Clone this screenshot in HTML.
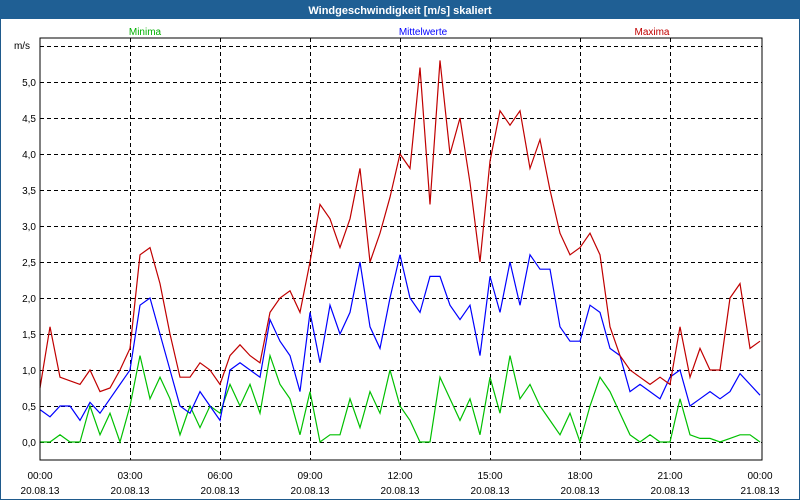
<!DOCTYPE html>
<html><head><meta charset="utf-8"><style>
body{margin:0;background:#fff;font-family:"Liberation Sans",sans-serif;}
</style></head><body>
<svg id="chart" width="800" height="500" xmlns="http://www.w3.org/2000/svg" style="display:block">
<rect x="0" y="0" width="800" height="500" fill="#fff" stroke="#1f5a8c" stroke-width="2"/>
<rect x="0" y="0" width="800" height="19" fill="#1f5f94"/>
<text x="400" y="14" fill="#fff" font-size="11" font-weight="bold" text-anchor="middle">Windgeschwindigkeit [m/s] skaliert</text>
<text x="145" y="35" fill="#00b000" font-size="10" text-anchor="middle">Minima</text>
<text x="423" y="35" fill="#0000ff" font-size="10" text-anchor="middle">Mittelwerte</text>
<text x="652" y="35" fill="#c00000" font-size="10" text-anchor="middle">Maxima</text>
<text x="22" y="49" fill="#000" font-size="10" text-anchor="middle">m/s</text>
<g id="grid"></g>
<g id="series"></g>
<rect x="40" y="38" width="722" height="422" fill="none" stroke="#000" stroke-width="1"/>
<g id="labels"></g>
</svg>
<script>
const xLabels = ["00:00","03:00","06:00","09:00","12:00","15:00","18:00","21:00","00:00"];
const dateLabels = ["20.08.13","20.08.13","20.08.13","20.08.13","20.08.13","20.08.13","20.08.13","20.08.13","21.08.13"];
const yTicks = [0,0.5,1,1.5,2,2.5,3,3.5,4,4.5,5,5.5];
const maxima = [0.75,1.6,0.9,0.85,0.8,1.0,0.7,0.75,1.0,1.3,2.6,2.7,2.2,1.5,0.9,0.9,1.1,1.0,0.8,1.2,1.35,1.2,1.1,1.8,2.0,2.1,1.8,2.5,3.3,3.1,2.7,3.1,3.8,2.5,2.9,3.4,4.0,3.8,5.2,3.3,5.3,4.0,4.5,3.6,2.5,3.9,4.6,4.4,4.6,3.8,4.2,3.5,2.9,2.6,2.7,2.9,2.6,1.6,1.2,1.0,0.9,0.8,0.9,0.8,1.6,0.9,1.3,1.0,1.0,2.0,2.2,1.3,1.4];
const mittel = [0.45,0.35,0.5,0.5,0.3,0.55,0.4,0.6,0.8,1.0,1.9,2.0,1.5,1.0,0.5,0.4,0.7,0.5,0.3,1.0,1.1,1.0,0.9,1.7,1.4,1.2,0.7,1.8,1.1,1.9,1.5,1.8,2.5,1.6,1.3,2.0,2.6,2.0,1.8,2.3,2.3,1.9,1.7,1.9,1.2,2.3,1.8,2.5,1.9,2.6,2.4,2.4,1.6,1.4,1.4,1.9,1.8,1.3,1.2,0.7,0.8,0.7,0.6,0.9,1.0,0.5,0.6,0.7,0.6,0.7,0.95,0.8,0.65];
const minima = [0,0,0.1,0,0,0.5,0.1,0.4,0,0.5,1.2,0.6,0.9,0.6,0.1,0.5,0.2,0.5,0.4,0.8,0.5,0.8,0.4,1.2,0.8,0.6,0.1,0.7,0,0.1,0.1,0.6,0.2,0.7,0.4,1.0,0.5,0.3,0,0,0.9,0.6,0.3,0.6,0.1,0.9,0.4,1.2,0.6,0.8,0.5,0.3,0.1,0.4,0,0.5,0.9,0.7,0.4,0.1,0,0.1,0,0,0.6,0.1,0.05,0.05,0,0.05,0.1,0.1,0];
const NS="http://www.w3.org/2000/svg";
const X0=40,X1=760,Y0=442,PPU=72;
function xHour(h){return X0+h*(X1-X0)/24;}
function xIdx(i,n){return X0+i*(X1-X0)/(n-1);}
function yVal(v){return Y0-v*PPU;}
const grid=document.getElementById('grid'),lab=document.getElementById('labels'),ser=document.getElementById('series');
yTicks.forEach(t=>{
  const l=document.createElementNS(NS,'line');
  l.setAttribute('x1',X0);l.setAttribute('x2',762);l.setAttribute('y1',yVal(t)+0.5);l.setAttribute('y2',yVal(t)+0.5);
  l.setAttribute('stroke','#000');l.setAttribute('stroke-dasharray','4,3');
  
  
  grid.appendChild(l);
  if(t<=5){
    const tx=document.createElementNS(NS,'text');
    tx.setAttribute('x',36);tx.setAttribute('y',yVal(t)+4);tx.setAttribute('font-size','10');tx.setAttribute('text-anchor','end');
    tx.textContent=t.toFixed(1).replace('.',',');
    
    
    lab.appendChild(tx);
  }
});
xLabels.forEach((s,i)=>{
  const x=xHour(i*3);
  if(i>0&&i<8){
    const l=document.createElementNS(NS,'line');
    l.setAttribute('x1',x+0.5);l.setAttribute('x2',x+0.5);l.setAttribute('y1',38);l.setAttribute('y2',460);
    l.setAttribute('stroke','#000');l.setAttribute('stroke-dasharray','4,3');
    
    
    grid.appendChild(l);
  }
  const t1=document.createElementNS(NS,'text');
  t1.setAttribute('x',x);t1.setAttribute('y',479);t1.setAttribute('font-size','10');t1.setAttribute('text-anchor','middle');
  t1.textContent=s;
  
  
  lab.appendChild(t1);
  const t2=document.createElementNS(NS,'text');
  t2.setAttribute('x',x);t2.setAttribute('y',494);t2.setAttribute('font-size','10');t2.setAttribute('text-anchor','middle');
  t2.textContent=dateLabels[i];
  
  
  lab.appendChild(t2);
});
function drawLine(arr,color,name){
  const p=document.createElementNS(NS,'polyline');
  p.setAttribute('points',arr.map((v,i)=>xIdx(i,arr.length).toFixed(1)+','+yVal(v).toFixed(1)).join(' '));
  p.setAttribute('fill','none');p.setAttribute('stroke',color);p.setAttribute('stroke-width','1.2');
  
  
  ser.appendChild(p);
}
drawLine(minima,'#00c000','series-minima');
drawLine(mittel,'#0000ff','series-mittelwerte');
drawLine(maxima,'#c00000','series-maxima');
</script>
</body></html>
